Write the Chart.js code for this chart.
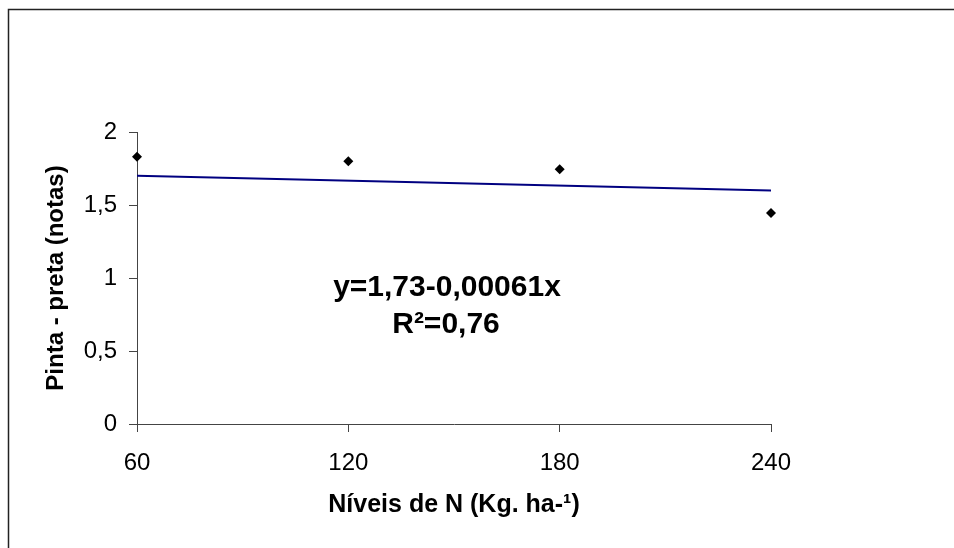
<!DOCTYPE html>
<html lang="pt">
<head>
    <meta charset="UTF-8"/>
    <title>Pinta-preta x Níveis de N</title>
    <script src="https://cdn.jsdelivr.net/npm/chart.js@4.4.1/dist/chart.umd.min.js"></script>
    <style>
        html, body { margin: 0; padding: 0; background: #fff; }
        canvas { display: block; }
    </style>
</head>
<body>
<canvas id="myChart" width="954" height="548"></canvas>
<script>
    // observed values
    const nLevels = [60, 120, 180, 240];
    const pintaPreta = [1.83, 1.80, 1.745, 1.445];

    // fitted line
    const trendX = [60, 240];
    const trendY = [1.70, 1.60];

    const xTicks = [60, 120, 180, 240];
    const yTicks = [0, 0.5, 1, 1.5, 2];

    const equationText = 'y=1,73-0,00061x';
    const r2Text = 'R²=0,76';

    const fontFamily = "'Liberation Sans', Arial, sans-serif";

    const toPoints = (xs, ys) => xs.map((x, i) => ({x: x, y: ys[i]}));

    // frame round the whole picture + equation text
    const framePlugin = {
        id: 'frame',
        beforeDraw(chart) {
            const ctx = chart.ctx;
            ctx.save();
            ctx.fillStyle = '#fff';
            ctx.fillRect(0, 0, chart.width, chart.height);
            ctx.strokeStyle = '#222';
            ctx.lineWidth = 1.5;
            ctx.strokeRect(8.5, 9.5, 1000, 600);
            ctx.restore();
        },
        afterDatasetsDraw(chart) {
            const ctx = chart.ctx;
            const area = chart.chartArea;
            ctx.save();
            ctx.fillStyle = '#000';
            ctx.font = 'bold 30px ' + fontFamily;
            ctx.textAlign = 'center';
            ctx.textBaseline = 'middle';
            ctx.fillText(equationText, area.left + 310, area.top + 156);
            ctx.fillText(r2Text, area.left + 309, area.top + 193);
            ctx.restore();
        }
    };

    const ctx = document.getElementById('myChart').getContext('2d');

    new Chart(ctx, {
        type: 'scatter',
        data: {
            datasets: [
                {
                    label: 'Pinta - preta',
                    data: toPoints(nLevels, pintaPreta),
                    pointStyle: 'rectRot',
                    pointRadius: 5,
                    pointBorderWidth: 0,
                    backgroundColor: '#000',
                    borderColor: '#000',
                    showLine: false,
                    clip: false
                },
                {
                    label: 'Linear',
                    data: toPoints(trendX, trendY),
                    showLine: true,
                    borderColor: '#000080',
                    borderWidth: 2,
                    pointRadius: 0,
                    fill: false,
                    clip: false
                }
            ]
        },
        options: {
            responsive: false,
            animation: false,
            layout: {
                padding: {left: 0, top: 132, right: 183, bottom: 0}
            },
            plugins: {
                legend: {display: false},
                tooltip: {enabled: false}
            },
            scales: {
                x: {
                    type: 'linear',
                    min: 60,
                    max: 240,
                    afterBuildTicks: (scale) => {
                        scale.ticks = xTicks.map(v => ({value: v}));
                    },
                    afterFit: (scale) => {
                        scale.height = 124;
                    },
                    ticks: {
                        color: '#000',
                        font: {family: fontFamily, size: 24},
                        padding: 17,
                        maxRotation: 0,
                        autoSkip: false
                    },
                    grid: {
                        drawOnChartArea: false,
                        drawTicks: true,
                        tickLength: 8,
                        color: '#444'
                    },
                    border: {color: '#444', width: 1},
                    title: {
                        display: true,
                        text: 'Níveis de N (Kg. ha-¹)',
                        color: '#000',
                        font: {family: fontFamily, size: 25, weight: 'bold'},
                        padding: {top: 0, bottom: 28}
                    }
                },
                y: {
                    type: 'linear',
                    min: 0,
                    max: 2,
                    afterBuildTicks: (scale) => {
                        scale.ticks = yTicks.map(v => ({value: v}));
                    },
                    afterFit: (scale) => {
                        scale.width = 137;
                    },
                    ticks: {
                        color: '#000',
                        font: {family: fontFamily, size: 24},
                        padding: 12,
                        callback: (value) => String(value).replace('.', ',')
                    },
                    grid: {
                        drawOnChartArea: false,
                        drawTicks: true,
                        tickLength: 8,
                        color: '#444'
                    },
                    border: {color: '#444', width: 1},
                    title: {
                        display: true,
                        text: 'Pinta - preta (notas)',
                        color: '#000',
                        font: {family: fontFamily, size: 24, weight: 'bold'},
                        padding: {top: 42, bottom: 0}
                    }
                }
            }
        },
        plugins: [framePlugin]
    });
</script>
</body>
</html>
